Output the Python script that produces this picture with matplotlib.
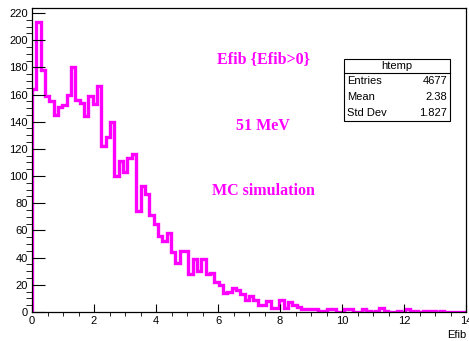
import numpy as np
import matplotlib
matplotlib.use("Agg")
import matplotlib.pyplot as plt
from matplotlib.ticker import MultipleLocator

# Efib histogram, 100 bins over [0, 14]
x_min = 0
x_max = 14
n_bins = 100
counts = np.array([
    164, 213, 178, 159, 155, 145, 151, 152, 160, 180,
    156, 154, 144, 159, 153, 166, 122, 129, 140, 100,
    111, 103, 113, 116, 74, 93, 87, 71, 65, 56,
    52, 58, 44, 36, 45, 45, 28, 39, 30, 39,
    28, 29, 22, 20, 14, 15, 18, 16, 13, 9,
    12, 9, 5, 5, 8, 3, 3, 9, 3, 7,
    5, 4, 2, 2, 2, 2, 1, 1, 2, 2,
    0, 0, 2, 2, 0, 0, 2, 1, 0, 1,
    3, 1, 0, 0, 1, 0, 2, 1, 1, 0,
    1, 1, 1, 0, 1, 0, 0, 0, 0, 0,
])
edges = np.linspace(x_min, x_max, n_bins + 1)

hist_name = "htemp"
x_title = "Efib"
notes = ["Efib {Efib>0}", "51 MeV", "MC simulation"]
mean_val = 2.38
std_val = 1.827

magenta = "#ff00ff"
plt.rcParams["font.family"] = ["Liberation Sans", "DejaVu Sans"]

fig = plt.figure(figsize=(4.69, 3.41), dpi=100)
ax = fig.add_axes([32 / 469, 29 / 341, 434 / 469, 304 / 341])

ax.stairs(counts, edges, color=magenta, linewidth=2.4, baseline=0)

ax.set_xlim(x_min, x_max)
ax.set_ylim(0, counts.max() * 1.05)

ax.xaxis.set_major_locator(MultipleLocator(2))
ax.xaxis.set_minor_locator(MultipleLocator(0.5))
ax.yaxis.set_major_locator(MultipleLocator(20))
ax.yaxis.set_minor_locator(MultipleLocator(5))
ax.tick_params(direction="in", labelsize=8, top=False, right=False)
ax.tick_params(axis="x", which="major", length=6, pad=3)
ax.tick_params(axis="x", which="minor", length=3)
ax.tick_params(axis="y", which="major", length=9, pad=3)
ax.tick_params(axis="y", which="minor", length=4.5)
for sp in ax.spines.values():
    sp.set_linewidth(0.9)

ax.text(1.0, -0.058, x_title, transform=ax.transAxes, ha="right", va="top",
        fontsize=8)

# magenta notes in bold serif
note_y = [59, 126, 191]
for txt, py in zip(notes, note_y):
    fig.text(263 / 469, 1 - py / 341, txt, ha="center", va="center",
             color=magenta, fontsize=11.5, fontweight="bold",
             family=["Liberation Serif", "DejaVu Serif"])

# statistics box
bx0, bx1 = 344 / 469, 450 / 469
by0, by1 = 1 - 121 / 341, 1 - 59 / 341
hdr = 1 - 72.5 / 341
fig.add_artist(plt.Rectangle((bx0, by0), bx1 - bx0, by1 - by0,
                             transform=fig.transFigure, fill=True,
                             facecolor="white", edgecolor="black",
                             linewidth=0.8))
fig.add_artist(plt.Line2D([bx0, bx1], [hdr, hdr], transform=fig.transFigure,
                          color="black", linewidth=0.8))
fig.text((bx0 + bx1) / 2, (by1 + hdr) / 2, hist_name, ha="center",
         va="center", fontsize=8)
rows = [("Entries", f"{counts.sum()}"),
        ("Mean", f"{mean_val:.2f}"),
        ("Std Dev", f"{std_val:.3f}")]
row_h = (hdr - by0) / len(rows)
for i, (lab, val) in enumerate(rows):
    yy = hdr - row_h * (i + 0.5)
    fig.text(bx0 + 3 / 469, yy, lab, ha="left", va="center", fontsize=8)
    fig.text(bx1 - 3 / 469, yy, val, ha="right", va="center", fontsize=8)

fig.savefig("out.png", dpi=100)
